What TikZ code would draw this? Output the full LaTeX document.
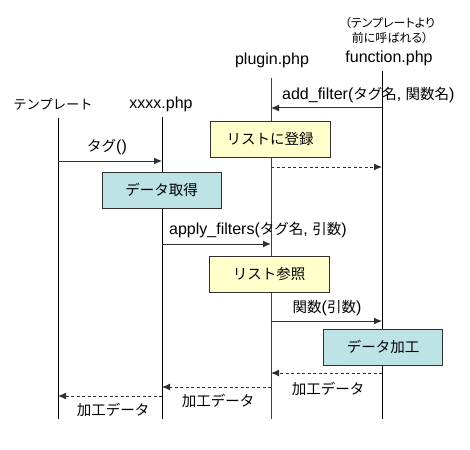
\documentclass[tikz,border=0pt]{standalone}
\usepackage{fontspec}
\setmainfont{Liberation Sans}
\newfontfamily\jp{Noto Sans CJK JP}
\newfontfamily\jpp[RawFeature=+palt]{Noto Sans CJK JP}
\newcommand{\Jtx}[1]{{\fontsize{14.5}{17}\selectfont\jp #1}}
\usetikzlibrary{arrows.meta}
\definecolor{boxyellow}{HTML}{FFFFCC}
\definecolor{boxblue}{HTML}{BDE3E6}
\definecolor{lineg}{HTML}{303030}
\tikzset{
  lbl/.style={inner sep=0pt, font=\fontsize{16}{19}\selectfont},
  jlbl/.style={inner sep=0pt, font=\fontsize{14.5}{17}\selectfont\jp},
  lifeline/.style={draw=black, line width=0.9pt},
  msg/.style={draw=lineg, line width=1pt, -{Latex[length=8pt,width=7pt]}},
  ret/.style={draw=lineg, line width=1pt, dash pattern=on 3pt off 2.5pt, -{Latex[length=8pt,width=7pt]}},
  ybox/.style={draw=lineg, line width=0.8pt, fill=boxyellow, minimum width=120pt, minimum height=36pt, inner sep=0pt, font=\fontsize{14.5}{17}\selectfont\jp},
  bbox/.style={draw=lineg, line width=0.8pt, fill=boxblue, minimum width=119pt, minimum height=36pt, inner sep=0pt, font=\fontsize{14.5}{17}\selectfont\jp}
}
\begin{document}
\begin{tikzpicture}[x=1pt,y=-1pt]
\useasboundingbox (0,0) rectangle (470,449);
% headers
\node[inner sep=0pt, font=\fontsize{13.3}{16}\selectfont\jp] (h1) at (53,104) {テンプレート};
\node[lbl] (h2) at (161,104) {xxxx.php};
\node[lbl] (h3) at (272,60) {plugin.php};
\node[lbl] (h4) at (389,58) {function.php};
\node[inner sep=0pt, align=center, font=\fontsize{12}{15}\selectfont\jpp] (note) at (390,30) {（テンプレートより\\前に呼ばれる）};
% lifelines
\coordinate (t1) at (58,118); \coordinate (b1) at (58,419);
\coordinate (t2) at (162,117); \coordinate (b2) at (162,419);
\coordinate (t3) at (271,78); \coordinate (b3) at (271,419);
\coordinate (t4) at (382,71); \coordinate (b4) at (382,419);
\draw[lifeline] (t1) -- (b1);
\draw[lifeline] (t2) -- (b2);
\draw[lifeline, draw=black!75] (t3) -- (b3);
\draw[lifeline] (t4) -- (b4);
% boxes
\node[ybox] (reg) at (270,139) {リストに登録};
\node[bbox] (get) at (161.5,190) {データ取得};
\node[ybox] (ref) at (269,274) {リスト参照};
\node[bbox] (proc) at (383,347) {データ加工};
% messages
\coordinate (m1s) at (382,108); \coordinate (m1e) at (271,108);
\draw[msg] (m1s) -- (m1e);
\node[lbl, anchor=west] (l1) at (282,95) {add\_filter(\Jtx{タグ名}, \Jtx{関数名})};
\coordinate (m2s) at (58,161); \coordinate (m2e) at (162,161);
\draw[msg] (m2s) -- (m2e);
\node[lbl] (l2) at (107,147) {\Jtx{タグ}()};
\coordinate (m3s) at (271,167); \coordinate (m3e) at (382,167);
\draw[ret] (m3s) -- (m3e);
\coordinate (m4s) at (162,244); \coordinate (m4e) at (271,244);
\draw[msg] (m4s) -- (m4e);
\node[lbl, anchor=west] (l4) at (169,230) {apply\_filters(\Jtx{タグ名}, \Jtx{引数})};
\coordinate (m5s) at (271,321); \coordinate (m5e) at (382,321);
\draw[msg] (m5s) -- (m5e);
\node[lbl] (l5) at (327,308) {\Jtx{関数}(\Jtx{引数})};
\coordinate (m6s) at (382,373); \coordinate (m6e) at (271,373);
\draw[ret] (m6s) -- (m6e);
\node[jlbl] (l6) at (328,389) {加工データ};
\coordinate (m7s) at (271,387); \coordinate (m7e) at (162,387);
\draw[ret] (m7s) -- (m7e);
\node[jlbl] (l7) at (218,401) {加工データ};
\coordinate (m8s) at (162,396); \coordinate (m8e) at (58,396);
\draw[ret] (m8s) -- (m8e);
\node[jlbl] (l8) at (113,410) {加工データ};
\end{tikzpicture}
\end{document}
